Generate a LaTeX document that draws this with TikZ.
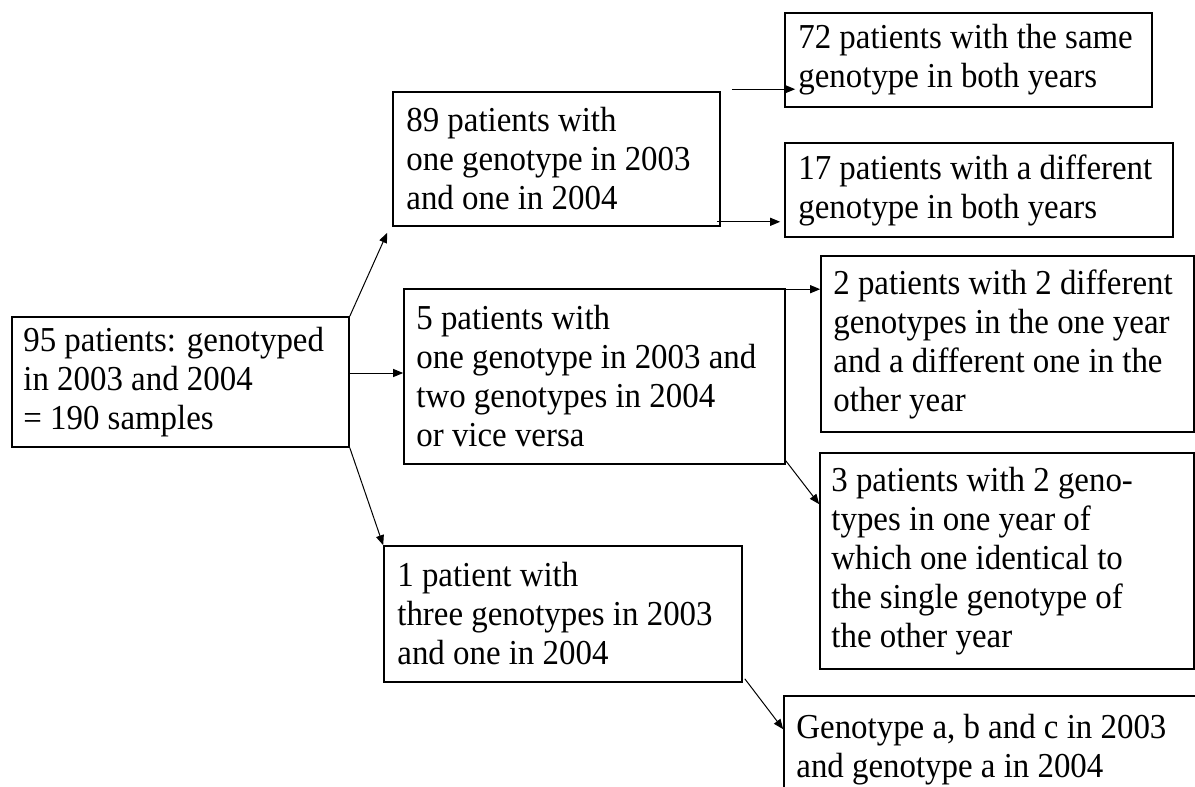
\documentclass[tikz,border=0pt]{standalone}
\usepackage{fontspec}
\setmainfont{Liberation Serif}[FakeStretch=0.94]
\usetikzlibrary{arrows.meta}
\begin{document}
\begin{tikzpicture}[x=1pt,y=-1pt,
  box/.style={draw=black, line width=1.6pt, rectangle, inner sep=0pt, anchor=center},
  txt/.style={inner sep=0pt, align=left, anchor=west, font=\fontsize{35}{39}\selectfont},
  arr/.style={draw=black, line width=1pt, -{Triangle[length=10pt,width=8pt]}}]
\useasboundingbox (0,0) rectangle (1195,787);
\clip (0,0) rectangle (1195,787);
\node[box, minimum width=337pt, minimum height=130pt] (A) at (180.5,382) {};
\node[txt] (At) at ([xshift=12pt]A.west)
  {95 patients: genotyped\\in 2003 and 2004\\= 190 samples};
\node[box, minimum width=327pt, minimum height=134pt] (B) at (556.5,159) {};
\node[txt] (Bt) at ([xshift=14pt]B.west)
  {89 patients with\\one genotype in 2003\\and one in 2004};
\node[box, minimum width=381pt, minimum height=175pt] (C) at (594.5,376.5) {};
\node[txt] (Ct) at ([xshift=13pt]C.west)
  {5 patients with\\one genotype in 2003 and\\two genotypes in 2004\\or vice versa};
\node[box, minimum width=367pt, minimum height=94pt] (D) at (968.5,60) {};
\node[txt] (Dt) at ([xshift=14pt]D.west)
  {72 patients with the same\\genotype in both years};
\node[box, minimum width=388pt, minimum height=94pt] (E) at (979,190) {};
\node[txt] (Et) at ([xshift=14pt]E.west)
  {17 patients with a different\\genotype in both years};
\node[box, minimum width=373pt, minimum height=176pt] (F) at (1007.5,344) {};
\node[txt] (Ft) at ([xshift=13pt]F.west)
  {2 patients with 2 different\\genotypes in the one year\\and a different one in the\\other year};
\node[box, minimum width=374pt, minimum height=216pt] (G) at (1007,561) {};
\node[txt] (Gt) at ([xshift=12pt]G.west)
  {3 patients with 2 geno-\\types in one year of\\which one identical to\\the single genotype of\\the other year};
\node[box, minimum width=358pt, minimum height=136pt] (H) at (563,614) {};
\node[txt] (Ht) at ([xshift=14pt]H.west)
  {1 patient with\\three genotypes in 2003\\and one in 2004};
\node[box, minimum width=431pt, minimum height=114pt] (I) at (999.5,753) {};
\node[txt] (It) at ([xshift=13pt,yshift=3pt]I.west)
  {Genotype a, b and c in 2003\\and genotype a in 2004};
\draw[arr] (A.north east) -- ([xshift=-5pt,yshift=-6pt]B.south west);
\draw[arr] ([yshift=9pt]A.east) -- ([yshift=9pt]A.east -| C.west);
\draw[arr] (A.south east) -- (H.north west);
\draw[arr] ([xshift=11pt,yshift=2pt]B.north east) -- ([xshift=11pt,yshift=2pt]B.north east -| D.west);
\draw[arr] ([xshift=-4pt,yshift=5pt]B.south east) -- ([xshift=-4pt,yshift=5pt]B.south east -| E.west);
\draw[arr] ([yshift=-1pt]C.north east) -- ([yshift=-1pt]C.north east -| F.west);
\draw[arr] ([yshift=4pt]C.south east) -- ([yshift=-52pt]G.north west);
\draw[arr] ([xshift=2pt,yshift=4pt]H.south east) -- ([yshift=-34pt]I.north west);
\end{tikzpicture}
\end{document}
